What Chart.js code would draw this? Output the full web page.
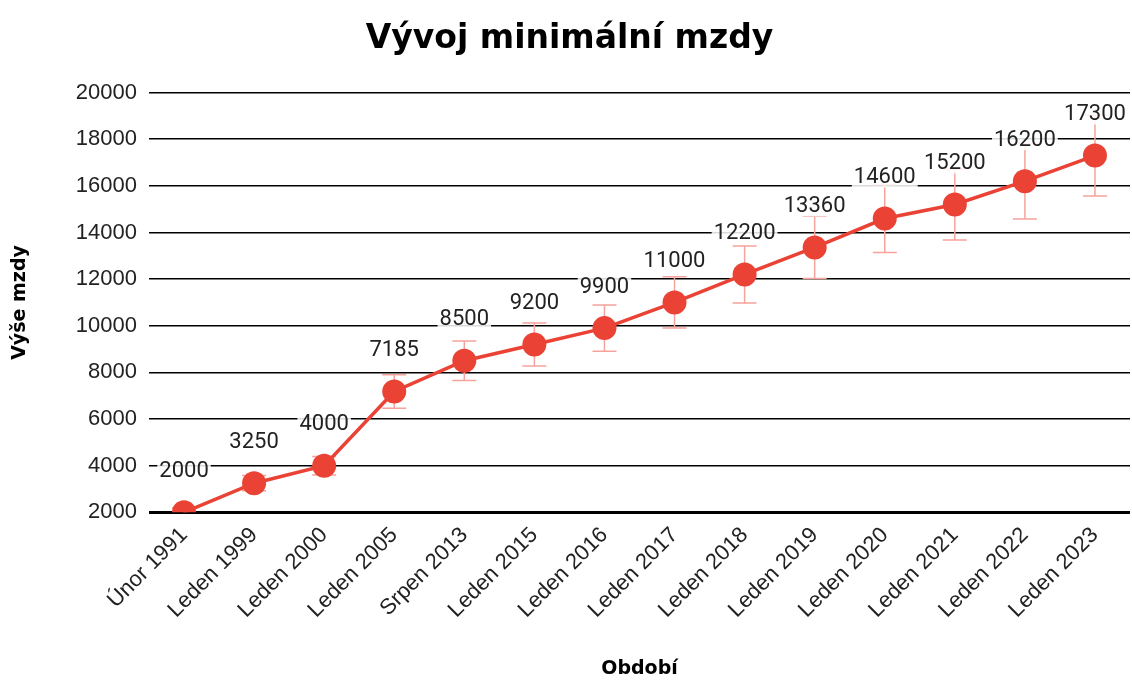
<!DOCTYPE html>
<html>
<head>
<meta charset="utf-8">
<script src="https://cdn.jsdelivr.net/npm/chart.js@4"></script>
<style>
  html, body { margin: 0; padding: 0; background: #fff; }
  #wrap { width: 1132px; height: 680px; }
</style>
</head>
<body>
<div id="wrap"><canvas id="chart"></canvas></div>
<script>
// Kategorie (období) a hodnoty minimální mzdy
const periods = ['Únor 1991', 'Leden 1999', 'Leden 2000', 'Leden 2005', 'Srpen 2013', 'Leden 2015',
    'Leden 2016', 'Leden 2017', 'Leden 2018', 'Leden 2019', 'Leden 2020', 'Leden 2021', 'Leden 2022', 'Leden 2023'];
const wages = [2000, 3250, 4000, 7185, 8500, 9200, 9900, 11000, 12200, 13360, 14600, 15200, 16200, 17300];
const yTicks = [2000, 4000, 6000, 8000, 10000, 12000, 14000, 16000, 18000, 20000];
const errorPercent = 10; // chybové úsečky v procentech

const lineColor = '#ea4335';
const errColor = '#f6a39c';
const tickFont = 'Liberation Sans, Arial';
const titleFont = 'DejaVu Sans, Verdana';

// chybové úsečky
const errorBars = {
    id: 'errorBars',
    beforeDatasetsDraw(chart) {
        const { ctx, chartArea, scales } = chart;
        const meta = chart.getDatasetMeta(0);
        ctx.save();
        ctx.beginPath();
        ctx.rect(chartArea.left, chartArea.top - 40, chartArea.right - chartArea.left, chartArea.bottom - chartArea.top + 40);
        ctx.clip();
        ctx.strokeStyle = errColor;
        ctx.lineWidth = 1.5;
        meta.data.forEach((pt, i) => {
            const v = wages[i];
            const d = v * errorPercent / 100;
            const yTop = scales.y.getPixelForValue(v + d);
            const yBot = scales.y.getPixelForValue(v - d);
            ctx.beginPath();
            ctx.moveTo(pt.x, yTop); ctx.lineTo(pt.x, yBot);
            ctx.moveTo(pt.x - 12, yTop); ctx.lineTo(pt.x + 12, yTop);
            ctx.moveTo(pt.x - 12, yBot); ctx.lineTo(pt.x + 12, yBot);
            ctx.stroke();
        });
        ctx.restore();
    }
};

// popisky hodnot nad body
const valueLabels = {
    id: 'valueLabels',
    afterDatasetsDraw(chart) {
        const { ctx } = chart;
        const meta = chart.getDatasetMeta(0);
        ctx.save();
        ctx.font = '22px Roboto';
        ctx.textAlign = 'center';
        ctx.textBaseline = 'middle';
        meta.data.forEach((pt, i) => {
            const txt = String(wages[i]);
            const y = pt.y - 41;
            const w = ctx.measureText(txt).width;
            ctx.fillStyle = 'rgba(255,255,255,0.85)';
            ctx.fillRect(pt.x - w / 2 - 2, y - 10, w + 4, 20);
            ctx.fillStyle = '#222';
            ctx.fillText(txt, pt.x, y);
        });
        ctx.restore();
    }
};

new Chart(document.getElementById('chart'), {
    type: 'line',
    data: {
        labels: periods,
        datasets: [{
            data: wages,
            borderColor: lineColor,
            backgroundColor: lineColor,
            borderWidth: 3.5,
            pointRadius: 12,
            pointHoverRadius: 12,
            pointBorderWidth: 0,
            tension: 0
        }]
    },
    options: {
        responsive: true,
        maintainAspectRatio: false,
        animation: false,
        layout: { autoPadding: false, padding: { top: 8, right: 2, left: 9, bottom: 0 } },
        plugins: {
            legend: { display: false },
            tooltip: { enabled: false },
            title: {
                display: true,
                text: 'Vývoj minimální mzdy',
                color: '#000',
                font: { family: titleFont, size: 33, weight: 'bold' },
                padding: { top: 12, bottom: 33 }
            }
        },
        scales: {
            x: {
                offset: true,
                grid: { display: false },
                border: { display: false },
                ticks: {
                    color: '#222',
                    font: { family: tickFont, size: 22 },
                    minRotation: 45,
                    maxRotation: 45,
                    padding: 2
                },
                title: {
                    display: true,
                    text: 'Období',
                    color: '#000',
                    font: { family: titleFont, size: 19, weight: 'bold' },
                    padding: { top: 32, bottom: 0 }
                }
            },
            y: {
                min: yTicks[0],
                max: yTicks[yTicks.length - 1],
                afterBuildTicks(axis) {
                    axis.ticks = yTicks.map(v => ({ value: v }));
                },
                border: { display: false },
                grid: {
                    color: '#000',
                    lineWidth: c => (c.tick && c.tick.value === 2000 ? 3 : 1.6),
                    drawTicks: false
                },
                ticks: {
                    color: '#222',
                    font: { family: tickFont, size: 22 },
                    padding: 12,
                    callback: v => String(v)
                },
                title: {
                    display: true,
                    text: 'Výše mzdy',
                    color: '#000',
                    font: { family: titleFont, size: 19, weight: 'bold' },
                    padding: { top: 0, bottom: 32 }
                }
            }
        }
    },
    plugins: [errorBars, valueLabels]
});
</script>
</body>
</html>
